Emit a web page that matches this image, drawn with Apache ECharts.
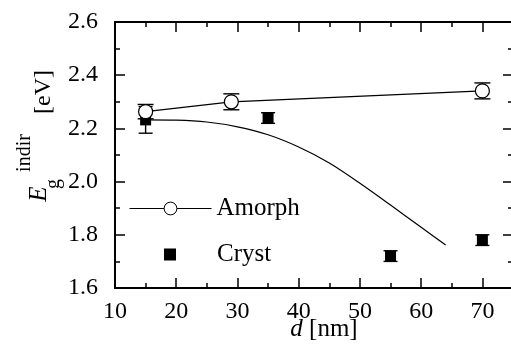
<!DOCTYPE html>
<html>
<head>
<meta charset="utf-8">
<script src="https://cdn.jsdelivr.net/npm/echarts@6/dist/echarts.min.js"></script>
<style>
  html, body { margin: 0; padding: 0; background: #fff; }
  #chart { width: 511px; height: 344px; }
</style>
</head>
<body>
<div id="chart"></div>
<script>
const dAmorph = [15, 29, 70];
const egAmorph = [2.263, 2.300, 2.341];
const errAmorph = [0.027, 0.03, 0.03];

const dCryst = [15, 35, 55, 70];
const egCryst = [2.232, 2.239, 1.72, 1.78];
const errCryst = [0.05, 0.02, 0.02, 0.02];

// fit curve for the crystalline points
const dFit = [15, 20, 25, 30, 35, 40, 45, 50, 55, 60, 64];
const egFit = [2.232, 2.231, 2.224, 2.206, 2.176, 2.130, 2.070, 1.994, 1.912, 1.828, 1.762];

const FONT = '"Liberation Serif", "Times New Roman", Times, serif';
const chart = echarts.init(document.getElementById("chart"));

const pairs = (xs, ys) => xs.map((x, i) => [x, ys[i]]);

const errorBars = (xs, ys, errs, capHalf, z) => ({
  type: "custom",
  silent: true,
  z: z,
  data: xs.map((x, i) => [x, ys[i] - errs[i], ys[i] + errs[i]]),
  encode: { x: 0, y: [1, 2] },
  renderItem: (params, api) => {
    const lo = api.coord([api.value(0), api.value(1)]);
    const hi = api.coord([api.value(0), api.value(2)]);
    const st = { stroke: "#000", lineWidth: 1.4 };
    return {
      type: "group",
      children: [
        { type: "line", shape: { x1: lo[0], y1: lo[1], x2: hi[0], y2: hi[1] }, style: st },
        { type: "line", shape: { x1: lo[0] - capHalf, y1: lo[1], x2: lo[0] + capHalf, y2: lo[1] }, style: st },
        { type: "line", shape: { x1: hi[0] - capHalf, y1: hi[1], x2: hi[0] + capHalf, y2: hi[1] }, style: st },
      ],
    };
  },
});

const xBase = {
  type: "value",
  min: 10,
  max: 75,
  splitLine: { show: false },
  axisLine: { lineStyle: { color: "#000", width: 2 } },
};

const options = {
  animation: false,
  grid: { left: 115, right: -2, top: 22, bottom: 56, outerBoundsMode: "none", containLabel: false },
  xAxis: [
    {
      ...xBase,
      position: "bottom",
      interval: 10,
      axisTick: { inside: true, length: 10, lineStyle: { color: "#000", width: 1.5 } },
      axisLabel: { color: "#000", fontFamily: FONT, fontSize: 24, margin: 12, showMaxLabel: false },
      name: "{i|d} [nm]",
      nameLocation: "middle",
      nameGap: 29,
      nameMoveOverlap: false,
      nameTextStyle: {
        color: "#000", fontFamily: FONT, fontSize: 25, padding: [0, 0, 0, 20],
        rich: { i: { fontStyle: "italic", fontFamily: FONT, fontSize: 25, color: "#000" } },
      },
    },
    {
      ...xBase,
      position: "bottom",
      interval: 5,
      axisTick: { inside: true, length: 5, lineStyle: { color: "#000", width: 1.5 } },
      axisLabel: { show: false },
    },
    {
      ...xBase,
      position: "top",
      interval: 10,
      axisTick: { inside: true, length: 10, lineStyle: { color: "#000", width: 1.5 } },
      axisLabel: { show: false },
    },
    {
      ...xBase,
      position: "top",
      interval: 5,
      axisTick: { inside: true, length: 5, lineStyle: { color: "#000", width: 1.5 } },
      axisLabel: { show: false },
    },
  ],
  yAxis: [
    {
      type: "value",
      min: 1.6,
      max: 2.6,
      interval: 0.2,
      position: "left",
      splitLine: { show: false },
      axisLine: { lineStyle: { color: "#000", width: 2 } },
      axisTick: { inside: true, length: 10, lineStyle: { color: "#000", width: 1.5 } },
      minorTick: { show: true, splitNumber: 2, length: 5, lineStyle: { color: "#000", width: 1.5 } },
      axisLabel: { color: "#000", fontFamily: FONT, fontSize: 24, margin: 17, formatter: (v) => v.toFixed(1) },
    },
    {
      type: "value",
      min: 1.6,
      max: 2.6,
      interval: 0.2,
      position: "right",
      splitLine: { show: false },
      axisLine: { lineStyle: { color: "#000", width: 2 } },
      axisTick: { inside: true, length: 10, lineStyle: { color: "#000", width: 1.5 } },
      minorTick: { show: true, splitNumber: 2, length: 5, lineStyle: { color: "#000", width: 1.5 } },
      axisLabel: { show: false },
    },
  ],
  legend: [
    {
      left: 129,
      top: 196,
      padding: 0,
      orient: "vertical",
      selectedMode: false,
      itemWidth: 82,
      itemHeight: 16,
      itemGap: 0,
      data: ["Amorph"],
      lineStyle: { color: "#000", width: 1 },
      itemStyle: { color: "#fff", borderColor: "#000", borderWidth: 1 },
      textStyle: { color: "#000", fontFamily: FONT, fontSize: 25, lineHeight: 24 },
    },
    {
      left: 164,
      top: 242,
      padding: 0,
      orient: "vertical",
      selectedMode: false,
      itemWidth: 12,
      itemHeight: 12,
      itemGap: 0,
      data: [{ name: "Cryst", icon: "rect" }],
      itemStyle: { color: "#000", opacity: 1 },
      formatter: "{a|{name}}",
      textStyle: {
        color: "#000", fontFamily: FONT, fontSize: 25, lineHeight: 24,
        rich: { a: { color: "#000", fontFamily: FONT, fontSize: 25, padding: [0, 0, 0, 36] } },
      },
    },
  ],
  graphic: [
    { type: "text", x: 39, y: 194, rotation: Math.PI / 2,
      style: { text: "E", font: "italic 25px " + FONT, fill: "#000", align: "center", verticalAlign: "middle" } },
    { type: "text", x: 54, y: 184, rotation: Math.PI / 2,
      style: { text: "g", font: "20px " + FONT, fill: "#000", align: "center", verticalAlign: "middle" } },
    { type: "text", x: 25, y: 153, rotation: Math.PI / 2,
      style: { text: "indir", font: "20px " + FONT, fill: "#000", align: "center", verticalAlign: "middle" } },
    { type: "text", x: 44, y: 92, rotation: Math.PI / 2,
      style: { text: "[eV]", font: "24px " + FONT, fill: "#000", align: "center", verticalAlign: "middle" } },
  ],
  series: [
    {
      name: "fit",
      type: "line",
      smooth: 0.3,
      showSymbol: false,
      silent: true,
      z: 1,
      lineStyle: { color: "#000", width: 1.2 },
      data: pairs(dFit, egFit),
    },
    errorBars(dCryst, egCryst, errCryst, 7, 2),
    {
      name: "Cryst",
      type: "scatter",
      symbol: "rect",
      symbolSize: 11,
      z: 3,
      itemStyle: { color: "#000", opacity: 1 },
      data: pairs(dCryst, egCryst),
    },
    errorBars(dAmorph, egAmorph, errAmorph, 8, 4),
    {
      name: "Amorph",
      type: "line",
      symbol: "circle",
      symbolSize: 14,
      showAllSymbol: true,
      z: 5,
      lineStyle: { color: "#000", width: 1.2 },
      itemStyle: { color: "#fff", borderColor: "#000", borderWidth: 1.2 },
      data: pairs(dAmorph, egAmorph),
    },
  ],
};

chart.setOption(options);
</script>
</body>
</html>
